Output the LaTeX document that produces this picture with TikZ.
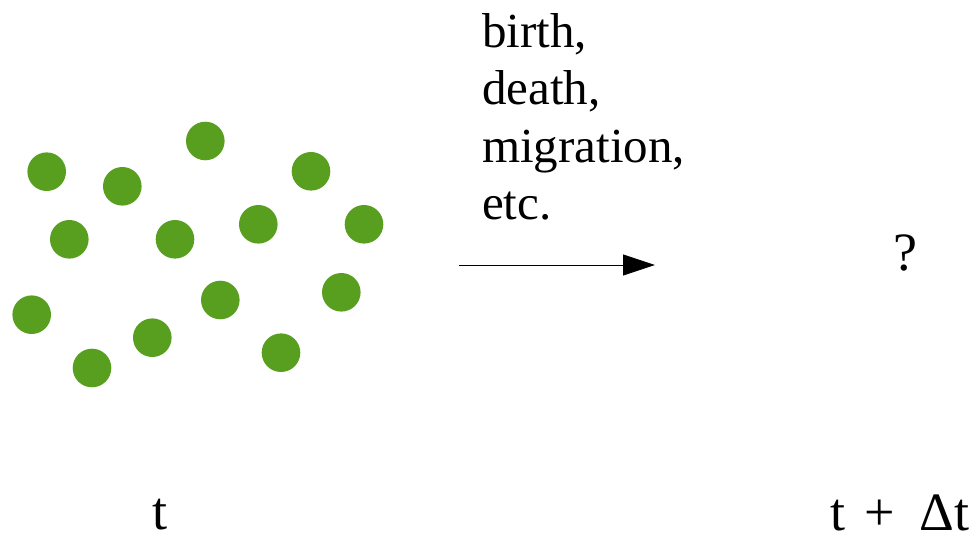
\documentclass[tikz,border=0pt]{standalone}
\usepackage{fontspec}
\setmainfont{Liberation Serif}
\newfontfamily\timesfont{Liberation Serif}
\usepackage{tikz}
\usetikzlibrary{arrows.meta, positioning}
\definecolor{leaf}{HTML}{589E1F}
\tikzset{
    individual/.style={fill=leaf, circle, inner sep=0pt, minimum size=38.6pt},
    flow/.style={-{Triangle[length=32pt, width=21pt]}, line width=0.8pt},
    label/.style={font=\timesfont\fontsize{54}{60}\selectfont, inner sep=0pt}
}

\begin{document}
\begin{tikzpicture}[x=1pt, y=-1pt]
    \useasboundingbox (0,0) rectangle (978,537);
    % Population at time t
    \foreach \i/\px/\py in {1/46.7/171.7, 2/122.3/186.3, 3/205.3/141, 4/311/171.3,
        5/69.3/239.3, 6/175/239.3, 7/258.3/224.3, 8/364/224.3, 9/31.7/314.7,
        10/220.3/300, 11/341.3/292.3, 12/152.3/337.7, 13/92/368, 14/281/352.7}
        \node[individual] (ind\i) at (\px,\py) {};
    % Processes and arrow
    \node[inner sep=0pt, anchor=north west, align=left,
          font=\timesfont\fontsize{49}{57.5}\selectfont] (events) at (482,13)
          {birth,\\death,\\migration,\\etc.};
    \coordinate (from) at (459,265);
    \coordinate (to) at (655,265);
    \draw[flow] (from) -- (to);
    % Unknown state
    \node[label, anchor=base] (unknown) at (905,271) {?};
    % Time labels
    \node[label, anchor=base] (tnow) at (160,529) {t};
    \node[label, anchor=base west] (tnext) at (830,530)
        {t\hspace{0.36em}+\hspace{0.45em}Δt};
\end{tikzpicture}
\end{document}
